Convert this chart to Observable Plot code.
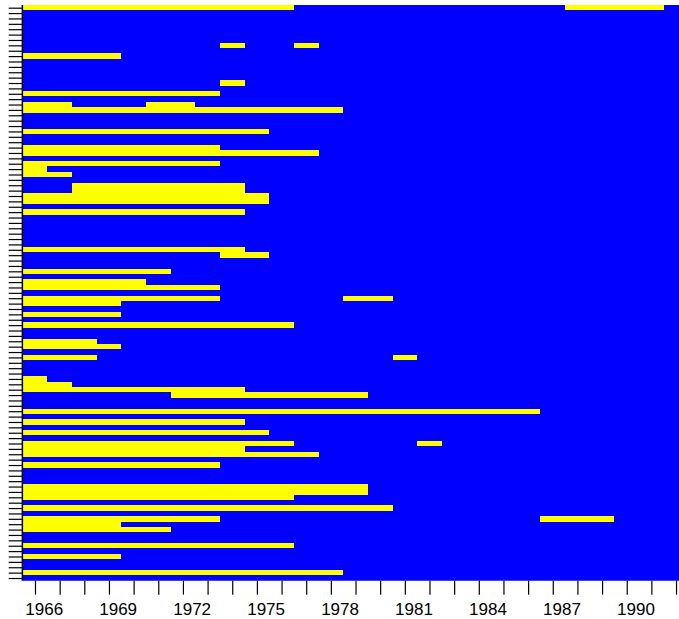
<!DOCTYPE html>
<html>
<head>
<meta charset="utf-8">
<script src="https://cdn.jsdelivr.net/npm/d3@7"></script>
<script src="https://cdn.jsdelivr.net/npm/@observablehq/plot@0.6"></script>
<style>
  html, body { margin: 0; padding: 0; background: #ffffff; overflow: hidden; }
  #chart svg { display: block; }
</style>
</head>
<body>
<div id="chart"></div>
<script>
// Years shown on the x axis (one column per year)
const years = [1966, 1967, 1968, 1969, 1970, 1971, 1972, 1973, 1974, 1975, 1976, 1977, 1978,
               1979, 1980, 1981, 1982, 1983, 1984, 1985, 1986, 1987, 1988, 1989, 1990, 1991, 1992];
// Tick labels (every third year)
const labelYears = [1966, 1969, 1972, 1975, 1978, 1981, 1984, 1987, 1990];
// Row categories (top to bottom)
const rowCount = 107;
const rows = d3.range(rowCount);
// Yellow runs: [row, first year, last year]
const yellowRuns = [
  [0, 1966, 1976], [0, 1988, 1991],
  [7, 1974, 1974], [7, 1977, 1977],
  [9, 1966, 1969],
  [14, 1974, 1974],
  [16, 1966, 1973],
  [18, 1966, 1967], [18, 1971, 1972],
  [19, 1966, 1978],
  [23, 1966, 1975],
  [26, 1966, 1973],
  [27, 1966, 1977],
  [29, 1966, 1973],
  [30, 1966, 1966],
  [31, 1966, 1967],
  [33, 1968, 1974],
  [34, 1968, 1974],
  [35, 1966, 1975],
  [36, 1966, 1975],
  [38, 1966, 1974],
  [45, 1966, 1974],
  [46, 1974, 1975],
  [49, 1966, 1971],
  [51, 1966, 1970],
  [52, 1966, 1973],
  [54, 1966, 1973], [54, 1979, 1980],
  [55, 1966, 1969],
  [57, 1966, 1969],
  [59, 1966, 1976],
  [62, 1966, 1968],
  [63, 1966, 1969],
  [65, 1966, 1968], [65, 1981, 1981],
  [69, 1966, 1966],
  [70, 1966, 1967],
  [71, 1966, 1974],
  [72, 1972, 1979],
  [75, 1966, 1986],
  [77, 1966, 1974],
  [79, 1966, 1975],
  [81, 1966, 1976], [81, 1982, 1982],
  [82, 1966, 1974],
  [83, 1966, 1977],
  [85, 1966, 1973],
  [89, 1966, 1979],
  [90, 1966, 1979],
  [91, 1966, 1976],
  [93, 1966, 1980],
  [95, 1966, 1973], [95, 1987, 1989],
  [96, 1966, 1969],
  [97, 1966, 1971],
  [100, 1966, 1976],
  [102, 1966, 1969],
  [105, 1966, 1978]
];
const statusLabels = ["absent", "present"];
const statusColors = ["#0000ff", "#ffff00"];

const cells = [];
for (const r of rows) {
  for (const yr of years) {
    const present = yellowRuns.some(([rr, a, b]) => rr === r && yr >= a && yr <= b);
    cells.push({row: r, year: yr, status: present ? "present" : "absent"});
  }
}

const chartW = 679, chartH = 619;
const plotLeft = 22.67, plotTop = 5, plotBottom = 580.7;

const chart = Plot.plot({
  width: chartW,
  height: chartH,
  marginLeft: plotLeft,
  marginRight: 0,
  marginTop: plotTop,
  marginBottom: chartH - plotBottom,
  style: {fontFamily: "'Liberation Sans', Arial, sans-serif", fontSize: "17px", background: "#ffffff", color: "#000000"},
  x: {type: "linear", domain: [1965.5, 1992.12], range: [plotLeft, chartW], label: null},
  y: {type: "band", domain: rows, padding: 0, label: null},
  color: {type: "ordinal", domain: statusLabels, range: statusColors},
  marks: [
    Plot.barX(cells, {
      x1: d => d.year - 0.5,
      x2: d => d.year + 0.5,
      y: "row",
      fill: "status",
      inset: 0,
      clip: true,
      shapeRendering: "crispEdges"
    }),
    Plot.axisY({ticks: rows, tickSize: 14, tickFormat: () => "", label: null, stroke: "#000000", strokeWidth: 1.2}),
    Plot.ruleX([1965.5], {stroke: "#000000", strokeWidth: 1.5, dx: -0.8}),
    Plot.axisX({ticks: years, tickSize: 14, tickFormat: () => "", label: null, stroke: "#000000", strokeWidth: 1.2}),
    Plot.axisX({ticks: labelYears, tickSize: 0, tickPadding: 22, dx: 8.7, fontSize: 17, label: null, fill: "#000000", tickFormat: d => String(d)})
  ]
});

document.getElementById("chart").appendChild(chart);
</script>
</body>
</html>
